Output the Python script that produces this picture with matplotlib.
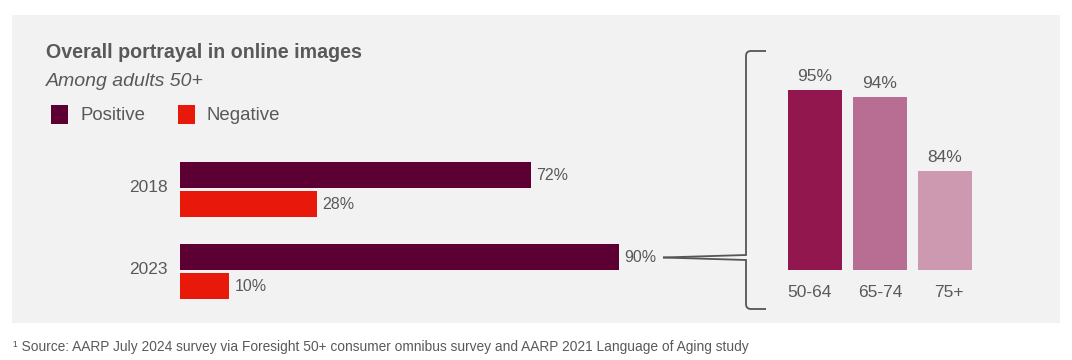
import matplotlib
matplotlib.use("Agg")
import matplotlib.pyplot as plt
from matplotlib.patches import Rectangle, PathPatch
from matplotlib.path import Path

plt.rcParams['font.family'] = ['Liberation Sans', 'DejaVu Sans']

years = ["2018", "2023"]
positive = [72, 90]
negative = [28, 10]
age_groups = ["50-64", "65-74", "75+"]
age_positive = [95, 94, 84]

POS_COLOR = "#5C0033"
NEG_COLOR = "#E8190A"
AGE_COLORS = ["#93174F", "#B76E92", "#CC99B1"]
TEXT = "#595959"
PANEL = "#F2F2F2"

W, H = 1072, 360
fig = plt.figure(figsize=(W / 100, H / 100), dpi=100, facecolor="white")


def fx(px):
    return px / W


def fy(py):
    return 1 - py / H


def rect(left, top, width, height):
    return [fx(left), fy(top + height), width / W, height / H]


# gray panel
fig.add_artist(Rectangle((fx(12), fy(323)), (1060 - 12) / W, (323 - 15) / H,
                         transform=fig.transFigure, facecolor=PANEL,
                         edgecolor="none", zorder=0))

# titles + legend
fig.text(fx(46), fy(53), "Overall portrayal in online images", fontsize=14.1,
         fontweight="bold", color=TEXT, va="center", ha="left")
fig.text(fx(46), fy(82), "Among adults 50+", fontsize=14, style="italic",
         color=TEXT, va="center", ha="left")
for x0, col, lab in [(51, POS_COLOR, "Positive"), (178, NEG_COLOR, "Negative")]:
    fig.add_artist(Rectangle((fx(x0), fy(124)), 17 / W, 19 / H,
                             transform=fig.transFigure, facecolor=col,
                             edgecolor="none"))
    fig.text(fx(x0 + 29), fy(115), lab, fontsize=13.4, color=TEXT,
             va="center", ha="left")

# left: horizontal bars
unit = 82.0
ax = fig.add_axes(rect(180, 189.75 - 0.6 * unit, 487.5, 2.2 * unit))
ax.set_xlim(0, 100)
ax.set_ylim(1.6, -0.6)
ax.axis("off")
bh = 26 / unit
off = 14.5 / unit
ypos = list(range(len(years)))
ax.barh([y - off for y in ypos], positive, height=bh, color=POS_COLOR)
ax.barh([y + off for y in ypos], negative, height=bh, color=NEG_COLOR)
for y, p, n, yr in zip(ypos, positive, negative, years):
    ax.annotate(f"{p}%", (p, y - off), xytext=(4, 0), textcoords="offset points",
                va="center", ha="left", fontsize=11.5, color=TEXT)
    ax.annotate(f"{n}%", (n, y + off), xytext=(4, 0), textcoords="offset points",
                va="center", ha="left", fontsize=11.5, color=TEXT)
    ax.annotate(yr, (0, y - 0.03), xytext=(-9, 0), textcoords="offset points",
                va="center", ha="right", fontsize=12.5, color=TEXT)

# bracket
def P(px, py):
    return (fx(px), fy(py))

verts = [P(663, 257.5), P(746, 255), P(746, 56), P(746, 51), P(751, 51), P(766, 51)]
codes = [Path.MOVETO, Path.LINETO, Path.LINETO, Path.CURVE3, Path.CURVE3, Path.LINETO]
fig.add_artist(PathPatch(Path(verts, codes), transform=fig.transFigure,
                         facecolor="none", edgecolor="#555555", lw=1.3))
verts = [P(663, 257.5), P(746, 260), P(746, 304), P(746, 309), P(751, 309), P(766, 309)]
fig.add_artist(PathPatch(Path(verts, codes), transform=fig.transFigure,
                         facecolor="none", edgecolor="#555555", lw=1.3))

# right: age group bars
xu = 65.0
ybase = 70.5
yu = 7.36
ax2 = fig.add_axes(rect(814.5 - 0.5 * xu, 270 - (100 - ybase) * yu, 3 * xu, (100 - ybase) * yu))
ax2.set_xlim(-0.5, 2.5)
ax2.set_ylim(ybase, 100)
ax2.axis("off")
xs = list(range(len(age_groups)))
ax2.bar(xs, age_positive, width=54 / xu, color=AGE_COLORS, bottom=0)
label_shift = [-5, 1, 4]
for x, v, lab, dx in zip(xs, age_positive, age_groups, label_shift):
    ax2.annotate(f"{v}%", (x, v), xytext=(0, 4), textcoords="offset points",
                 va="bottom", ha="center", fontsize=12.5, color=TEXT)
    ax2.annotate(lab, (x, ybase), xytext=(dx * 0.72, -11), textcoords="offset points",
                 va="top", ha="center", fontsize=12.5, color=TEXT, annotation_clip=False)

# footnote
fig.text(fx(13), fy(347), "\u00b9 Source: AARP July 2024 survey via Foresight 50+ consumer omnibus survey "
         "and AARP 2021 Language of Aging study", fontsize=9.9, color=TEXT,
         va="center", ha="left")

fig.savefig("out.png", dpi=100, facecolor="white")
